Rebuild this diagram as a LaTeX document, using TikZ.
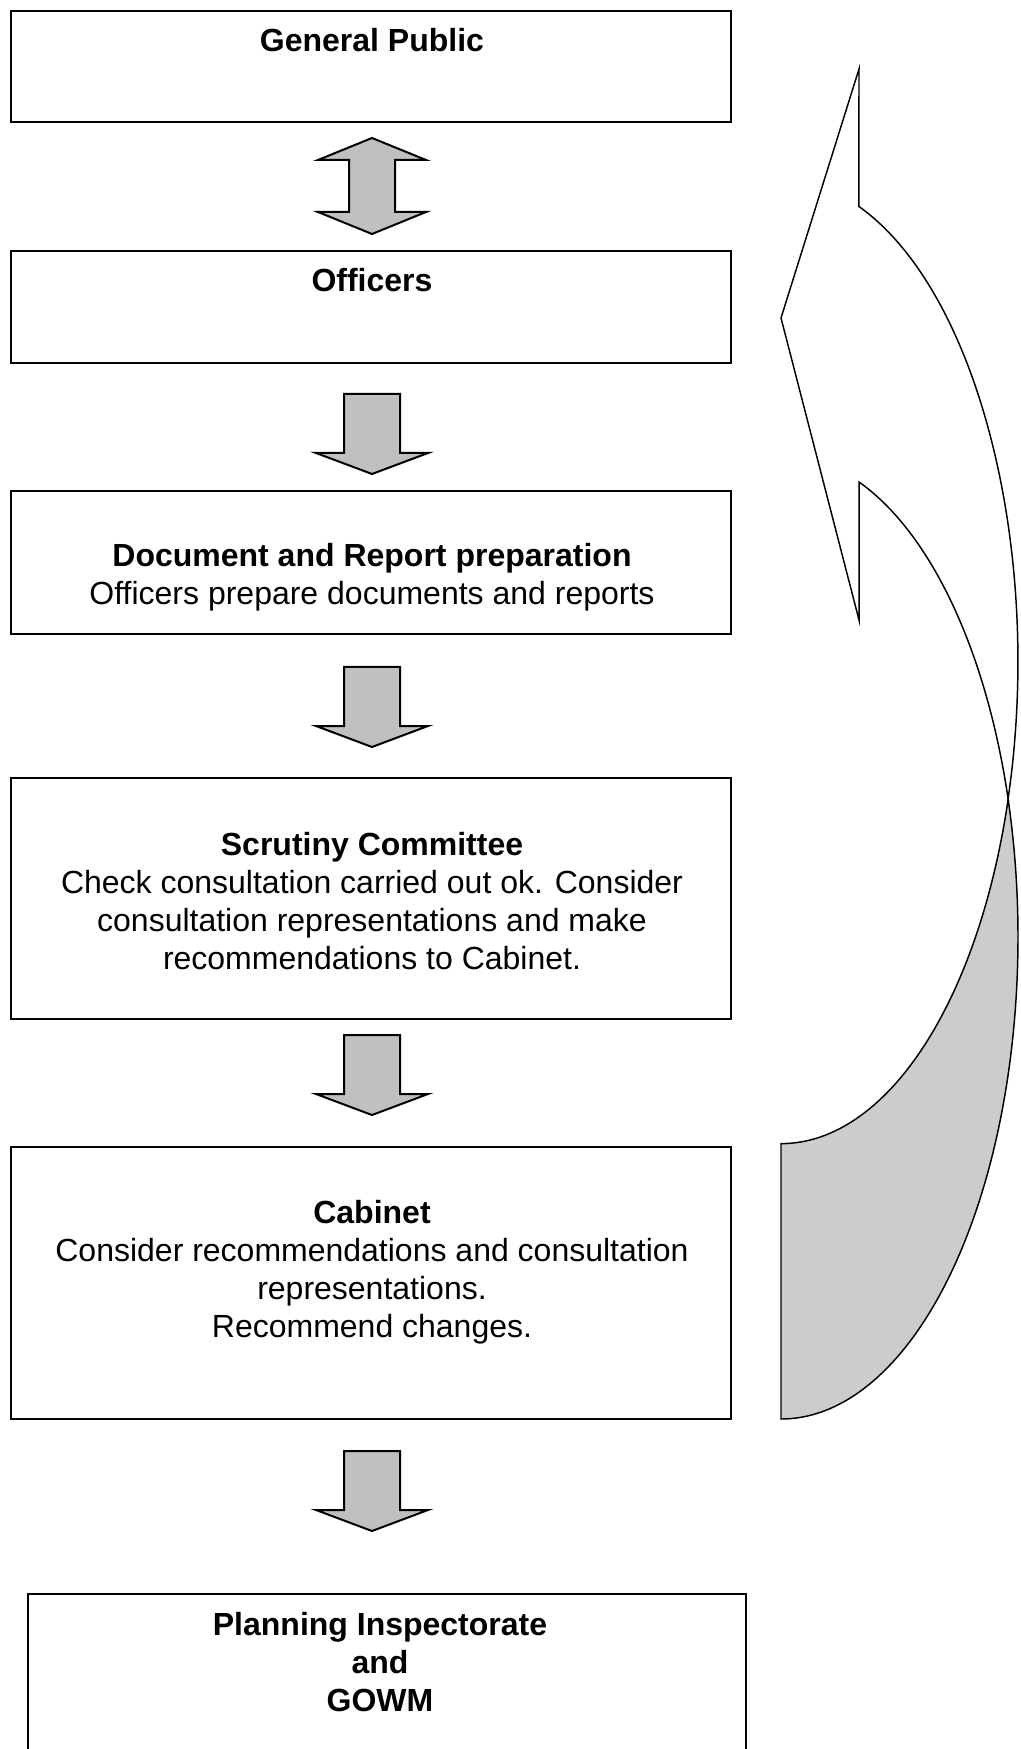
\documentclass[tikz,border=0pt]{standalone}
\usepackage{fontspec}
\setmainfont{Liberation Sans}
\usetikzlibrary{fit}
\definecolor{arrowgrey}{HTML}{C0C0C0}
\definecolor{backgrey}{HTML}{CCCCCC}
\tikzset{
    box/.style={draw, line width=0.8pt, inner sep=0pt},
    boxtext/.style={anchor=base, inner sep=0pt, font=\fontsize{12}{14.25}\selectfont},
    blockarrow/.style={draw, fill=arrowgrey, line width=0.75pt, line join=miter},
    bendarrow/.style={draw, line width=0.55pt},
}
\newcommand{\downblock}[1]{\draw[blockarrow, shift={#1}] (-28,0) -- (28,0) -- (28,59) -- (56,59) -- (0,80) -- (-56,59) -- (-28,59) -- cycle;}
\newcommand{\lines}[1]{\begin{tabular}[t]{@{}c@{}}#1\end{tabular}}

\begin{document}
\begin{tikzpicture}[x=0.375pt, y=-0.375pt]
            \useasboundingbox (0,0) rectangle (1020,1749);
            \clip (0,0) rectangle (1020,1749);

            \node[box, fit={(11,11) (731,122)}] (public) {};
            \node[box, fit={(11,251) (731,363)}] (officers) {};
            \node[box, fit={(11,491) (731,634)}] (docprep) {};
            \node[box, fit={(11,778) (731,1019)}] (scrutiny) {};
            \node[box, fit={(11,1147) (731,1419)}] (cabinet) {};
            \node[box, fit={(28,1594) (746,1800)}] (inspect) {};

            \node[boxtext] (publiclabel) at (372,52) {\textbf{General Public}};
            \node[boxtext] (officerslabel) at (372,292) {\textbf{Officers}};
            \node[boxtext] (docpreplabel) at (372,567) {\lines{\textbf{Document and Report preparation}\\ Officers prepare documents and reports}};
            \node[boxtext] (scrutinylabel) at (372,855) {\lines{\textbf{Scrutiny Committee}\\ Check consultation carried out ok. Consider\\ consultation representations and make\\ recommendations to Cabinet.}};
            \node[boxtext] (cabinetlabel) at (372,1223) {\lines{\textbf{Cabinet}\\ Consider recommendations and consultation\\ representations.\\ Recommend changes.}};
            \node[boxtext] (inspectlabel) at (380,1635) {\lines{\textbf{Planning Inspectorate}\\ \textbf{and}\\ \textbf{GOWM}}};

            \draw[blockarrow, shift={(372,138)}] (0,0) -- (54,22) -- (23,22) -- (23,74) -- (54,74) -- (0,96) -- (-54,74) -- (-23,74) -- (-23,22) -- (-54,22) -- cycle;
            \downblock{(372,394)}
            \downblock{(372,667)}
            \downblock{(372,1035)}
            \downblock{(372,1451)}

            \draw[bendarrow, fill=backgrey] (781,1419) arc[start angle=90, end angle=-16.6, x radius=237, y radius=482] arc[start angle=16.6, end angle=90, x radius=237, y radius=482] -- cycle;
            \draw[bendarrow, fill=white] (1008,799.3) arc[start angle=16.6, end angle=-70.8, x radius=237, y radius=482] -- (859,69) -- (781,318) -- (859,620) -- (859,482) arc[start angle=-70.8, end angle=-16.6, x radius=237, y radius=482] -- cycle;
\end{tikzpicture}
\end{document}
